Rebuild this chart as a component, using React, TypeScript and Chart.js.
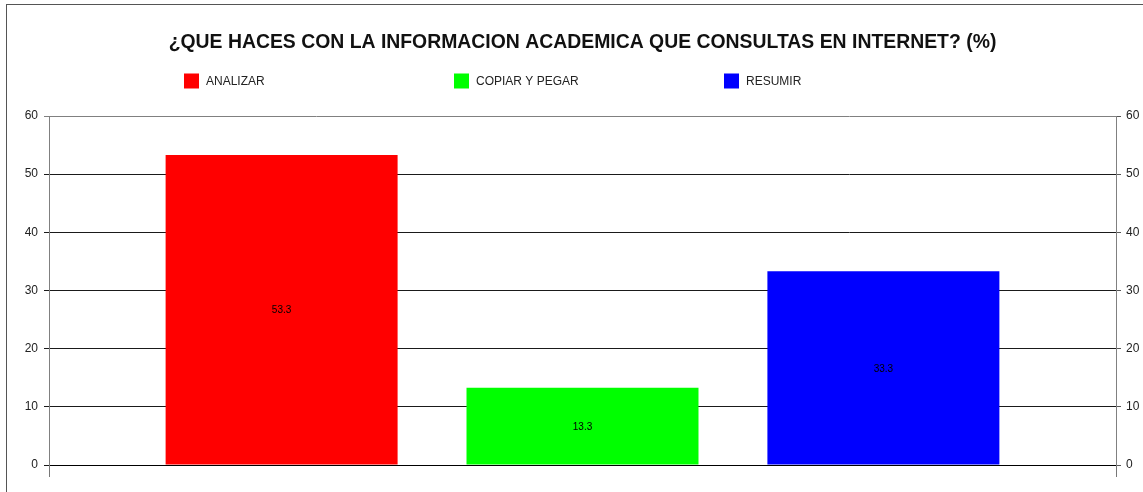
import React, { useEffect, useRef } from "react";
import { Chart, registerables } from "chart.js";

Chart.register(...registerables);

const TITLE = "¿QUE HACES CON LA INFORMACION ACADEMICA QUE CONSULTAS EN INTERNET? (%)";
const CATEGORIES = [""];
const SERIES_NAMES = ["ANALIZAR", "COPIAR Y PEGAR", "RESUMIR"];
const SERIES_VALUES = [53.3, 13.3, 33.3];
const SERIES_COLORS = ["#ff0000", "#00ff00", "#0000ff"];
const Y_MIN = 0;
const Y_MAX = 60;
const Y_STEP = 10;

const FONT = "'Liberation Sans', Arial, sans-serif";

const frameAndLegend = {
  id: "frameAndLegend",
  beforeDraw(chart: any) {
    const ctx = chart.ctx;
    ctx.save();
    ctx.fillStyle = "#ffffff";
    ctx.fillRect(0, 0, chart.width, chart.height);
    ctx.strokeStyle = "#555555";
    ctx.lineWidth = 1;
    ctx.strokeRect(6.5, 4.5, chart.width + 100, chart.height + 100);
    ctx.restore();
  },
  afterDraw(chart: any) {
    const ctx = chart.ctx;
    const area = chart.chartArea;
    ctx.save();
    // title centred over the plot area
    ctx.fillStyle = "#111111";
    ctx.font = `bold 19.4px ${FONT}`;
    ctx.textAlign = "center";
    ctx.textBaseline = "middle";
    ctx.fillText(TITLE, (area.left + area.right) / 2, area.top - 73);
    // legend
    const y = area.top - 35;
    chart.data.datasets.forEach((ds: any, i: number) => {
      const x = area.left + 135 + i * 270;
      ctx.fillStyle = ds.backgroundColor;
      ctx.fillRect(x, y - 7.5, 15, 15);
      ctx.fillStyle = "#222222";
      ctx.font = `12px ${FONT}`;
      ctx.textBaseline = "middle";
      ctx.textAlign = "left";
      ctx.fillText(ds.label, x + 22, y + 0.5);
    });
    // data labels
    chart.data.datasets.forEach((ds: any, i: number) => {
      const meta = chart.getDatasetMeta(i);
      meta.data.forEach((el: any, j: number) => {
        const v = ds.data[j];
        ctx.fillStyle = "#000000";
        ctx.font = `10px ${FONT}`;
        ctx.textAlign = "center";
        ctx.textBaseline = "middle";
        ctx.fillText(String(v), el.x, (el.y + el.base) / 2 + 1);
      });
    });
    ctx.restore();
  },
};

export default function App() {
  const ref = useRef<HTMLCanvasElement | null>(null);
  useEffect(() => {
    document.body.style.margin = "0";
    const canvas = ref.current!;
    const chart = new Chart(canvas, {
      type: "bar",
      data: {
        labels: CATEGORIES,
        datasets: SERIES_NAMES.map((name, i) => ({
          label: name,
          data: [SERIES_VALUES[i]],
          backgroundColor: SERIES_COLORS[i],
          borderWidth: 0,
          categoryPercentage: 0.846,
          barPercentage: 0.771,
        })),
      },
      options: {
        animation: false,
        responsive: false,
        maintainAspectRatio: false,
        layout: { padding: { top: 116, left: 0, right: 0, bottom: 0 } },
        plugins: {
          legend: { display: false },
          tooltip: { enabled: false },
          title: { display: false },
        },
        scales: {
          x: {
            offset: true,
            grid: {
              display: true,
              offset: true,
              drawOnChartArea: false,
              drawTicks: true,
              tickLength: 12,
              color: "#777777",
            },
            border: { display: true, color: "#000000", width: 1 },
            ticks: { display: false },
            afterFit(scale: any) {
              scale.height = 27;
            },
          },
          y: {
            position: "left",
            min: Y_MIN,
            max: Y_MAX,
            ticks: {
              stepSize: Y_STEP,
              padding: 6,
              color: "#222222",
              font: { family: FONT, size: 12 },
            },
            grid: {
              color: (c: any) => (c.tick && c.tick.value === Y_MAX ? "#808080" : "#1a1a1a"),
              tickLength: 5,
            },
            border: { display: true, color: "#808080" },
            afterFit(scale: any) {
              scale.width = 49;
            },
          },
          y2: {
            position: "right",
            min: Y_MIN,
            max: Y_MAX,
            ticks: {
              stepSize: Y_STEP,
              padding: 5,
              color: "#222222",
              font: { family: FONT, size: 12 },
            },
            grid: {
              drawOnChartArea: false,
              color: "#555555",
              tickLength: 5,
            },
            border: { display: true, color: "#808080" },
            afterFit(scale: any) {
              scale.width = 27;
            },
          },
        },
      },
      plugins: [frameAndLegend],
    } as any);
    return () => chart.destroy();
  }, []);
  return (
    <div style={{ width: 1143, height: 492, position: "relative", overflow: "hidden" }}>
      <canvas ref={ref} width={1143} height={492} style={{ display: "block" }} />
    </div>
  );
}
